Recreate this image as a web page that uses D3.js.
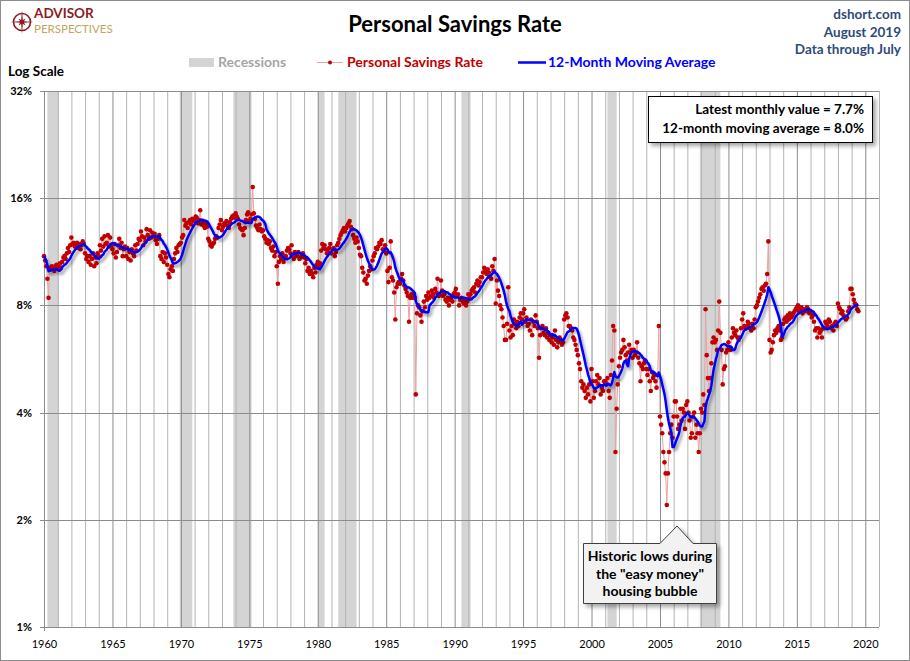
<!DOCTYPE html>
<html>
<head>
<meta charset="utf-8">
<script src="https://cdn.jsdelivr.net/npm/d3@7"></script>
<style>
body{margin:0;background:#fff;}
svg text{font-family:Lato,"Open Sans",sans-serif;}
</style>
</head>
<body>
<svg id="chart" width="910" height="661"></svg>
<script>
"use strict";

// monthly personal savings rate (%), Jan of first year onward
var rate1960s=[
11.0,10.7,10.3,9.5,8.4,10.2,10.1,10.3,10.2,10.0,10.3,10.4,
10.3,10.1,10.5,10.2,10.6,10.9,11.0,10.8,11.2,11.6,11.3,11.8,
12.4,11.9,12.0,11.7,11.8,12.0,11.6,11.9,11.5,11.8,12.1,11.9,
11.2,10.8,11.0,10.6,11.0,10.4,10.8,11.2,10.3,10.9,10.5,11.2,
11.0,11.8,11.4,12.3,11.7,12.5,11.9,12.0,12.6,11.7,12.4,11.8,
11.5,11.2,11.9,10.9,11.3,11.8,12.3,11.6,12.0,11.0,11.5,11.7,
11.0,11.6,10.8,11.3,10.7,11.5,11.2,11.0,11.8,11.4,11.9,12.3,
12.2,12.9,12.5,11.8,12.4,12.1,13.1,12.6,12.3,13.0,12.4,12.8,
12.5,12.7,12.2,11.9,12.3,12.6,11.0,10.8,11.3,10.6,11.2,10.9,
10.4,9.8,9.6,10.1,10.3,10.0,10.8,11.2,11.6,11.3,11.8,11.9];
var rate1970s=[
12.0,12.4,12.6,13.9,13.4,13.6,13.2,13.7,13.9,13.5,14.0,13.8,
14.0,14.2,14.1,13.6,13.9,14.8,13.5,13.7,13.4,13.2,13.6,13.3,
12.3,12.1,11.8,11.7,11.9,12.0,12.3,12.5,12.4,13.2,13.5,13.9,
13.0,13.3,13.6,13.5,13.8,13.4,13.2,13.7,14.0,14.2,14.3,14.1,
14.5,14.2,14.0,13.5,13.2,13.1,13.0,12.6,13.2,13.9,14.4,14.6,
13.8,14.0,14.4,17.2,14.5,14.0,13.4,13.2,13.0,13.5,13.1,12.9,
13.0,12.5,12.3,12.0,12.2,11.9,12.1,11.6,11.4,11.7,11.0,11.3,
10.3,9.2,10.6,11.0,10.8,11.2,10.6,10.9,11.0,11.4,11.6,11.5,
11.2,11.8,11.0,10.8,11.3,11.0,11.1,11.3,10.8,10.9,11.0,11.2,
10.9,10.5,10.8,10.0,10.2,9.8,10.0,9.8,9.6,10.2,9.9,10.4];
var rate1980s=[
10.6,10.3,10.5,11.4,11.9,11.6,11.8,11.5,11.2,11.3,11.6,11.9,
11.2,11.5,11.6,11.0,11.3,11.8,12.0,12.3,12.6,12.8,13.0,13.2,
12.9,13.2,13.4,13.6,13.8,13.3,13.1,12.6,12.3,12.0,12.4,12.1,
11.6,11.1,11.0,10.2,9.9,9.4,9.5,9.2,9.7,10.0,10.3,10.1,
10.7,11.0,11.2,11.6,11.5,11.7,12.0,11.9,12.2,11.5,11.4,11.8,
11.2,10.0,9.3,10.2,12.1,9.6,9.4,8.7,7.3,9.0,9.2,9.3,
9.2,9.5,9.8,9.4,9.1,8.9,8.7,8.5,7.2,8.4,8.6,8.4,
8.6,8.4,4.5,7.6,8.0,7.9,7.5,7.2,7.7,8.2,7.9,8.5,
8.3,8.7,8.4,8.5,8.8,8.6,8.4,8.9,8.7,9.5,8.5,8.6,
9.4,8.8,8.5,8.6,8.3,8.2,8.4,8.0,8.3,8.4,8.2,8.6];
var rate1990s=[
8.7,8.9,8.5,8.6,8.0,8.3,8.4,8.2,8.1,8.3,8.0,8.2,
8.6,8.4,8.6,8.8,8.9,9.0,8.7,9.2,9.4,9.1,9.3,9.6,
9.6,9.9,10.2,10.0,9.8,10.1,9.9,9.6,9.5,10.3,10.0,10.8,
8.1,9.4,8.8,8.5,8.0,7.8,7.4,7.0,6.4,6.4,7.1,9.0,
6.8,6.5,7.0,6.6,7.3,7.1,6.9,7.2,7.0,7.4,7.6,7.3,
7.6,7.8,7.2,7.4,7.0,7.1,6.8,7.3,6.6,7.2,7.0,7.5,
7.2,6.9,5.7,6.6,6.9,7.0,6.7,6.6,6.9,6.5,6.7,6.4,
6.6,6.3,6.5,6.2,6.8,6.4,6.1,6.3,6.5,6.4,6.2,6.3,
7.3,7.5,7.6,7.4,7.0,7.0,6.9,6.8,6.5,6.4,6.2,6.0,
5.8,5.5,5.3,4.9,4.7,4.8,4.6,4.4,4.7,4.5,4.8,4.3];
var rate2000s=[
5.3,4.9,4.4,4.6,4.9,5.1,4.8,5.0,4.5,4.7,4.6,4.9,
4.9,4.8,5.0,4.6,4.4,5.1,5.6,7.0,6.8,3.1,4.1,4.8,
5.4,5.7,5.9,6.0,6.4,6.1,5.8,5.6,5.9,6.2,5.9,6.0,
5.7,6.0,5.8,5.9,6.3,5.7,5.5,4.9,5.4,5.3,5.5,5.6,
5.3,5.1,5.3,4.9,4.6,5.2,5.0,5.1,4.9,4.7,5.1,7.0,
3.9,3.7,3.5,3.1,2.9,2.7,2.2,2.7,3.1,3.5,3.7,3.4,
3.9,4.3,4.3,3.9,3.6,3.7,4.1,3.8,4.1,4.0,3.6,4.2,
4.3,4.0,3.8,3.4,3.5,3.9,4.0,3.4,3.7,3.5,3.1,3.5,
4.1,4.0,4.5,4.2,7.8,5.8,5.0,4.6,5.0,5.5,6.3,6.5,
6.3,6.4,6.0,6.8,8.2,6.7,6.0,4.8,5.3,5.4,5.9,6.0];
var rate2010s=[
6.3,6.1,6.0,6.5,6.9,6.7,6.6,6.8,6.5,6.4,6.5,6.9,
7.3,7.6,7.0,6.9,7.0,7.2,7.1,6.9,6.8,7.1,6.9,7.3,
7.9,8.0,8.2,8.4,8.6,8.9,9.0,8.8,9.1,9.2,9.8,12.1,
6.4,5.9,6.0,6.3,6.6,6.8,6.7,6.9,7.0,6.8,6.4,6.5,
7.1,7.3,7.4,7.2,7.5,7.3,7.6,7.4,7.5,7.6,7.7,7.8,
7.9,8.0,7.7,7.8,7.9,7.6,7.7,7.8,7.7,7.9,7.8,7.6,
7.7,7.4,7.5,7.2,6.8,6.9,6.5,6.9,6.7,6.8,6.5,6.9,
6.9,7.2,7.1,7.0,7.3,7.2,6.9,7.0,6.8,7.1,7.2,7.0,
8.1,7.9,7.8,7.6,7.7,7.5,7.4,7.3,7.4,7.7,7.9,8.9,
8.9,8.6,8.3,8.1,8.0,7.8,7.7];

var recessionStarts=["1960-04","1969-12","1973-11","1980-01","1981-07","1990-07","2001-03","2007-12"];
var recessionEnds=["1961-02","1970-11","1975-03","1980-07","1982-11","1991-03","2001-11","2009-06"];

var yTicks=[1,2,4,8,16,32];
var xLabelYears=[1960,1965,1970,1975,1980,1985,1990,1995,2000,2005,2010,2015,2020];

var latestText=["Latest monthly value = 7.7%","12-month moving average = 8.0%"];
var calloutText=["Historic lows during","the \"easy money\"","housing bubble"];

function dataViz(){

	var svg=d3.select("#chart");
	var parseMonth=d3.timeParse("%Y-%m");

	var rates=[].concat(rate1960s,rate1970s,rate1980s,rate1990s,rate2000s,rate2010s);
	var data=rates.map(function(v,i){
		return {date:new Date(1960,i,1), value:v};
	});
	// trailing 12-month average
	data.forEach(function(d,i){
		d.ma=d3.mean(data.slice(Math.max(0,i-11),i+1),function(e){return e.value;});
	});

	var xScale=d3.scaleTime().domain([new Date(1960,0,1),new Date(2021,0,1)]).range([44,879]);
	var yScale=d3.scaleLog().base(2).domain([1,32]).range([627,91]);

	var defs=svg.append("defs");
	var shadow=defs.append("filter").attr("id","shadow").attr("x","-20%").attr("y","-20%").attr("width","140%").attr("height","140%");
	shadow.append("feDropShadow").attr("dx",2).attr("dy",3).attr("stdDeviation",1.6)
		.attr("flood-color","#000").attr("flood-opacity",0.4);
	var boxShadow=defs.append("filter").attr("id","boxShadow").attr("x","-20%").attr("y","-20%").attr("width","140%").attr("height","150%");
	boxShadow.append("feDropShadow").attr("dx",3).attr("dy",3).attr("stdDeviation",2)
		.attr("flood-color","#000").attr("flood-opacity",0.35);

	// frame
	svg.append("rect").attr("x",0.5).attr("y",0.5).attr("width",909).attr("height",660)
		.attr("fill","#fff").attr("stroke","#8c8c8c");

	// recessions
	svg.append("g").selectAll("rect")
		.data(recessionStarts)
		.enter().append("rect")
		.attr("x",function(d){return xScale(parseMonth(d));})
		.attr("width",function(d,i){return xScale(parseMonth(recessionEnds[i]))-xScale(parseMonth(d));})
		.attr("y",yScale(32))
		.attr("height",yScale(1)-yScale(32))
		.attr("fill","#d4d4d4");

	// vertical grid, every year
	var years=d3.range(1961,2022);
	svg.append("g").selectAll("line")
		.data(years)
		.enter().append("line")
		.attr("x1",function(d){return xScale(new Date(d,0,1))+0.5;})
		.attr("x2",function(d){return xScale(new Date(d,0,1))+0.5;})
		.attr("y1",yScale(32))
		.attr("y2",yScale(1))
		.attr("stroke",function(d){return d%5===0 ? "#8c8c8c" : "#b4b4b4";})
		.attr("stroke-width",1);

	// horizontal grid
	svg.append("g").selectAll("line")
		.data(yTicks)
		.enter().append("line")
		.attr("x1",40)
		.attr("x2",879)
		.attr("y1",function(d){return Math.round(yScale(d))+0.5;})
		.attr("y2",function(d){return Math.round(yScale(d))+0.5;})
		.attr("stroke","#8c8c8c");

	svg.append("line").attr("x1",44.5).attr("x2",44.5).attr("y1",yScale(32)).attr("y2",yScale(1)+4)
		.attr("stroke","#8c8c8c");

	// axes
	var yAxisG=svg.append("g").attr("id","yAxisG").attr("transform","translate(44,0)")
		.call(d3.axisLeft(yScale).tickValues(yTicks).tickFormat(function(d){return d+"%";}).tickSize(0).tickPadding(12));
	yAxisG.select(".domain").remove();
	yAxisG.selectAll("text").attr("font-family","'DejaVu Sans',sans-serif").attr("font-weight","bold")
		.attr("font-size","11px").attr("fill","#000");

	var xAxisG=svg.append("g").attr("id","xAxisG").attr("transform","translate(0,627)")
		.call(d3.axisBottom(xScale).tickValues(xLabelYears.map(function(y){return new Date(y,0,1);}))
			.tickFormat(d3.timeFormat("%Y")).tickSize(0).tickPadding(13));
	xAxisG.select(".domain").remove();
	xAxisG.selectAll("text").attr("font-family","'DejaVu Sans',sans-serif")
		.attr("font-size","11px").attr("fill","#000");

	// monthly series
	var rateLine=d3.line()
		.x(function(d){return xScale(d.date);})
		.y(function(d){return yScale(d.value);});
	svg.append("path")
		.attr("d",rateLine(data))
		.attr("fill","none")
		.attr("stroke","#e9a3a3")
		.attr("stroke-width",1);

	svg.append("g").selectAll("circle")
		.data(data)
		.enter().append("circle")
		.attr("cx",function(d){return xScale(d.date);})
		.attr("cy",function(d){return yScale(d.value);})
		.attr("r",2.3)
		.attr("fill","#c00000");

	var maLine=d3.line()
		.x(function(d){return xScale(d.date);})
		.y(function(d){return yScale(d.ma);});
	svg.append("path")
		.attr("d",maLine(data))
		.attr("fill","none")
		.attr("stroke","#0000ff")
		.attr("stroke-width",2.5)
		.attr("stroke-linejoin","round")
		.attr("filter","url(#shadow)");

	// titles
	svg.append("text").attr("x",455).attr("y",32).attr("text-anchor","middle")
		.attr("font-size","22px").attr("font-weight","bold").attr("fill","#000")
		.text("Personal Savings Rate");

	var rightInfo=["dshort.com","August 2019","Data through July"];
	svg.append("g").selectAll("text")
		.data(rightInfo)
		.enter().append("text")
		.attr("x",901)
		.attr("y",function(d,i){return 19+i*17.5;})
		.attr("text-anchor","end")
		.attr("font-size","13.5px").attr("font-weight","bold").attr("fill","#2f4b7c")
		.text(function(d){return d;});

	svg.append("text").attr("x",8).attr("y",76)
		.attr("font-size","13.5px").attr("font-weight","bold").attr("fill","#000")
		.text("Log Scale");

	// legend
	var legend=svg.append("g").attr("font-size","14px").attr("font-weight","bold");
	legend.append("rect").attr("x",189).attr("y",58).attr("width",25).attr("height",9).attr("fill","#d4d4d4");
	legend.append("text").attr("x",218).attr("y",67).attr("fill","#a6a6a6").text("Recessions");
	legend.append("line").attr("x1",317).attr("x2",343).attr("y1",62.5).attr("y2",62.5)
		.attr("stroke","#e9a3a3").attr("stroke-width",1);
	legend.append("circle").attr("cx",330).attr("cy",62.5).attr("r",2).attr("fill","#c00000");
	legend.append("text").attr("x",347).attr("y",67).attr("fill","#c00000").text("Personal Savings Rate");
	legend.append("line").attr("x1",518).attr("x2",546).attr("y1",62.5).attr("y2",62.5)
		.attr("stroke","#0000ff").attr("stroke-width",2.5);
	legend.append("text").attr("x",548).attr("y",67).attr("fill","#0000ff").text("12-Month Moving Average");

	// latest value box
	svg.append("rect").attr("x",648.5).attr("y",96.5).attr("width",224).attr("height",46)
		.attr("fill","#fff").attr("stroke","#000").attr("filter","url(#boxShadow)");
	svg.append("g").selectAll("text")
		.data(latestText)
		.enter().append("text")
		.attr("x",864)
		.attr("y",function(d,i){return 114+i*19;})
		.attr("text-anchor","end")
		.attr("font-size","13.5px").attr("font-weight","bold").attr("fill","#000")
		.text(function(d){return d;});

	// callout
	var cx0=583.5,cx1=716.5,cy0=543.5,cy1=603.5;
	var callout=d3.path();
	callout.moveTo(cx0,cy0);
	callout.lineTo(660,cy0);
	callout.lineTo(677,526);
	callout.lineTo(693,cy0);
	callout.lineTo(cx1,cy0);
	callout.lineTo(cx1,cy1);
	callout.lineTo(cx0,cy1);
	callout.closePath();
	svg.append("path").attr("d",callout.toString())
		.attr("fill","#f2f2f2").attr("stroke","#404040").attr("filter","url(#boxShadow)");
	svg.append("g").selectAll("text")
		.data(calloutText)
		.enter().append("text")
		.attr("x",650)
		.attr("y",function(d,i){return 561+i*17.5;})
		.attr("text-anchor","middle")
		.attr("font-size","14px").attr("font-weight","bold").attr("fill","#000")
		.text(function(d){return d;});

	// logo
	var logo=svg.append("g").attr("transform","translate(22,22)");
	logo.append("circle").attr("r",8.5).attr("fill","none").attr("stroke","#8c1c24").attr("stroke-width",1.6);
	var star=d3.range(16).map(function(i){
		var a=i*Math.PI/8;
		var r=(i%4===0)?12:(i%2===0?5:2.2);
		return [a,r];
	});
	logo.append("path").attr("d",d3.lineRadial().curve(d3.curveLinearClosed)(star)).attr("fill","#8c1c24");
	svg.append("text").attr("x",34).attr("y",18).attr("font-size","13.5px").attr("font-weight","bold")
		.attr("fill","#8c1c24").text("ADVISOR");
	svg.append("text").attr("x",34).attr("y",33).attr("font-size","11.5px")
		.attr("fill","#c4a55e").text("PERSPECTIVES");
}

dataViz();
</script>
</body>
</html>
